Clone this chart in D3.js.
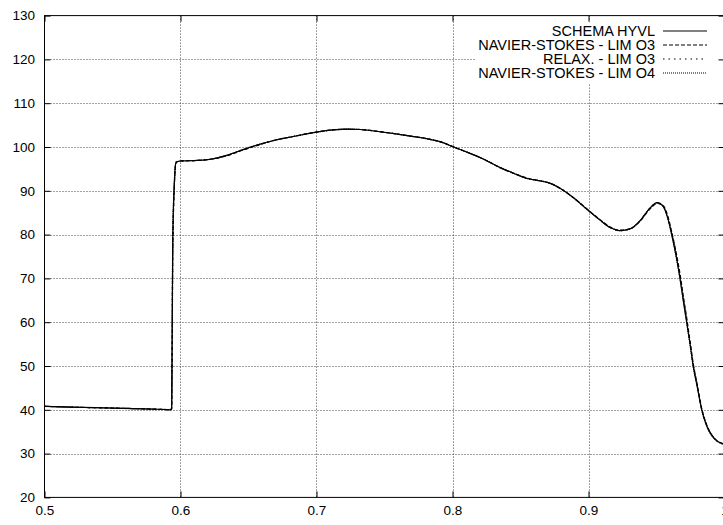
<!DOCTYPE html>
<html>
<head>
<meta charset="utf-8">
<script src="https://cdn.jsdelivr.net/npm/d3@7"></script>
<style>
  html, body { margin: 0; padding: 0; background: #fff; }
  svg { display: block; }
  text { font-family: "Liberation Sans", Arial, sans-serif; fill: #000; }
</style>
</head>
<body>
<svg id="chart" width="723" height="525"></svg>
<script>
// ---- data ----
const xTicks = [0.5, 0.6, 0.7, 0.8, 0.9, 1];
const yTicks = [20, 30, 40, 50, 60, 70, 80, 90, 100, 110, 120, 130];
const seriesNames = ["SCHEMA HYVL", "NAVIER-STOKES - LIM O3", "RELAX. - LIM O3", "NAVIER-STOKES - LIM O4"];

const xs = [0.5, 0.52, 0.55, 0.58, 0.59, 0.5925, 0.5935, 0.5943, 0.5955, 0.5967, 0.598, 0.6, 0.61, 0.622, 0.634, 0.646, 0.658, 0.67, 0.683, 0.7, 0.712, 0.722, 0.732, 0.744, 0.756, 0.769, 0.781, 0.793, 0.8, 0.81, 0.823, 0.835, 0.845, 0.855, 0.864, 0.872, 0.879, 0.889, 0.8995, 0.9085, 0.916, 0.923, 0.9305, 0.938, 0.945, 0.9505, 0.955, 0.9587, 0.9612, 0.965, 0.9673, 0.9697, 0.9722, 0.9746, 0.977, 0.98, 0.9832, 0.987, 0.9906, 0.9943, 1.0];

const hyvl = [40.8, 40.6, 40.4, 40.15, 40.05, 40.0, 40.4, 78.7, 92.0, 96.5, 96.7, 96.8, 96.9, 97.2, 98.1, 99.4, 100.6, 101.6, 102.4, 103.4, 103.9, 104.07, 104.0, 103.6, 103.1, 102.5, 101.9, 101.0, 100.1, 98.9, 97.2, 95.3, 94.0, 92.8, 92.3, 91.7, 90.6, 88.4, 85.6, 83.3, 81.6, 80.9, 81.3, 83.2, 86.0, 87.3, 86.4, 83.3, 80.0, 74.2, 70.0, 65.0, 60.0, 55.2, 50.0, 45.3, 40.1, 36.3, 34.2, 32.9, 32.1];
const nsO3 = [40.8, 40.6, 40.4, 40.15, 40.05, 40.0, 40.2, 75.0, 91.0, 96.3, 96.7, 96.8, 96.9, 97.2, 98.0, 99.3, 100.5, 101.6, 102.4, 103.4, 103.9, 104.05, 104.0, 103.6, 103.1, 102.5, 101.9, 101.0, 100.1, 98.9, 97.2, 95.3, 94.0, 92.9, 92.3, 91.7, 90.6, 88.4, 85.7, 83.4, 81.7, 81.0, 81.3, 83.1, 85.8, 87.1, 86.6, 83.8, 80.6, 75.0, 71.0, 66.0, 61.0, 55.8, 50.6, 45.7, 40.4, 36.5, 34.3, 33.0, 32.2];
const relaxO3 = [40.8, 40.6, 40.4, 40.15, 40.05, 40.0, 40.3, 77.0, 91.5, 96.4, 96.7, 96.8, 96.9, 97.2, 98.1, 99.4, 100.6, 101.6, 102.4, 103.4, 103.9, 104.07, 104.0, 103.6, 103.1, 102.5, 101.9, 101.0, 100.1, 98.9, 97.2, 95.3, 94.0, 92.8, 92.3, 91.7, 90.6, 88.4, 85.6, 83.3, 81.6, 80.9, 81.3, 83.2, 85.9, 87.2, 86.5, 83.5, 80.3, 74.6, 70.5, 65.5, 60.5, 55.5, 50.3, 45.5, 40.2, 36.4, 34.2, 32.9, 32.1];
const nsO4 = [40.8, 40.6, 40.4, 40.15, 40.05, 40.0, 40.4, 79.0, 92.2, 96.6, 96.7, 96.8, 96.9, 97.2, 98.1, 99.4, 100.6, 101.6, 102.4, 103.4, 103.9, 104.07, 104.0, 103.6, 103.1, 102.5, 101.9, 101.0, 100.1, 98.9, 97.2, 95.3, 94.0, 92.8, 92.3, 91.7, 90.6, 88.4, 85.6, 83.3, 81.6, 80.9, 81.3, 83.2, 86.0, 87.3, 86.4, 83.2, 79.9, 74.0, 69.8, 64.8, 59.8, 55.0, 49.8, 45.1, 40.0, 36.2, 34.1, 32.9, 32.1];

const seriesValues = [hyvl, nsO3, relaxO3, nsO4];
const dashes = [null, "4,2", "1.5,4", "1,1"];

(function () {
// ---- layout ----
const pLeft = 44.5, pRight = 724.5, pTop = 15.6, pBottom = 497.4;

const svg = d3.select("#chart");
const x = d3.scaleLinear().domain([0.5, 1]).range([pLeft, pRight]);
const y = d3.scaleLinear().domain([20, 130]).range([pBottom, pTop]);

const gGrid = svg.append("g");
const gLegend = svg.append("g");

// legend
const legTextRight = 655, legLineX1 = 663, legLineX2 = 707, legY0 = 31, legDy = 14;
seriesNames.forEach((name, i) => {
  const yy = legY0 + i * legDy;
  gLegend.append("text")
    .attr("x", legTextRight).attr("y", yy)
    .attr("dy", "0.36em")
    .attr("text-anchor", "end")
    .style("font-size", "14.5px")
    .text(name);
  gLegend.append("line")
    .attr("x1", legLineX1).attr("x2", legLineX2)
    .attr("y1", yy).attr("y2", yy)
    .attr("stroke", "#000").attr("stroke-width", 1)
    .attr("stroke-dasharray", dashes[i]);
});
const lb = gLegend.node().getBBox();
const boxLeft = lb.x - 2, boxTop = lb.y - 1, boxBottom = lb.y + lb.height + 2, boxRight = 716;

// grid
const gridStyle = sel => sel.attr("stroke", "#444").attr("stroke-width", 1).attr("stroke-dasharray", "1,2");
gGrid.selectAll("line.gx").data(xTicks.filter(d => d > 0.5 && d < 1)).join("line")
  .attr("class", "gx")
  .attr("x1", d => Math.round(x(d)) + 0.5).attr("x2", d => Math.round(x(d)) + 0.5)
  .attr("y1", pTop).attr("y2", pBottom)
  .call(gridStyle);
gGrid.selectAll("line.gy").data(yTicks.filter(d => d > 20 && d < 130)).join("line")
  .attr("class", "gy")
  .attr("x1", pLeft)
  .attr("x2", d => (y(d) > boxTop && y(d) < boxBottom) ? boxLeft : pRight)
  .attr("y1", d => Math.round(y(d)) + 0.5).attr("y2", d => Math.round(y(d)) + 0.5)
  .call(gridStyle);

// opaque key box over vertical grid
gGrid.append("rect")
  .attr("x", boxLeft).attr("y", boxTop)
  .attr("width", boxRight - boxLeft).attr("height", boxBottom - boxTop)
  .attr("fill", "#fff");

// curves
const line = d3.line()
  .x((d, i) => x(xs[i]))
  .y(d => y(d))
  .curve(d3.curveMonotoneX);
const gLines = svg.append("g");
seriesValues.forEach((vals, i) => {
  gLines.append("path")
    .attr("d", line(vals))
    .attr("fill", "none")
    .attr("stroke", "#000")
    .attr("stroke-width", 1.2)
    .attr("stroke-dasharray", dashes[i]);
});

// axes
const fs = "13.5px";
const axB = svg.append("g").attr("transform", `translate(0,${pBottom})`)
  .call(d3.axisBottom(x).tickValues(xTicks).tickSize(-6).tickPadding(8).tickFormat(d3.format("")));
const axL = svg.append("g").attr("transform", `translate(${pLeft},0)`)
  .call(d3.axisLeft(y).tickValues(yTicks).tickSize(-6).tickPadding(9.5).tickFormat(d3.format("")));
const axT = svg.append("g").attr("transform", `translate(0,${pTop})`)
  .call(d3.axisTop(x).tickValues(xTicks).tickSize(-6).tickFormat(""));
const axR = svg.append("g").attr("transform", `translate(${pRight},0)`)
  .call(d3.axisRight(y).tickValues(yTicks).tickSize(-6).tickFormat(""));
[axB, axL, axT, axR].forEach(g => {
  g.select(".domain").remove();
  g.selectAll("line").attr("stroke", "#000");
  g.selectAll("text").style("font-size", fs).style("font-family", '"Liberation Sans", Arial, sans-serif').attr("fill", "#000");
});

// border
svg.append("rect")
  .attr("x", pLeft).attr("y", pTop)
  .attr("width", pRight - pLeft).attr("height", pBottom - pTop)
  .attr("fill", "none").attr("stroke", "#000").attr("stroke-width", 1);
})();
</script>
</body>
</html>
